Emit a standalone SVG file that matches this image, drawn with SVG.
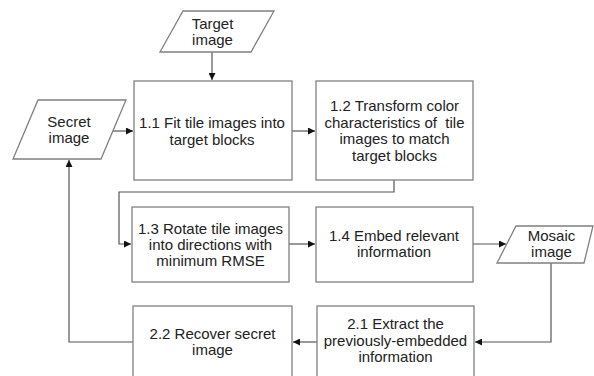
<svg xmlns="http://www.w3.org/2000/svg" width="594" height="376" viewBox="0 0 594 376">
<defs>
<marker id="arr" markerUnits="userSpaceOnUse" markerWidth="8" markerHeight="7" refX="7" refY="3.5" orient="auto">
<path d="M0,0 L7,3.5 L0,7 z" fill="#111"/>
</marker>
<style>
.box{fill:#fff;stroke:#808080;stroke-width:1.3}
.con{fill:none;stroke:#555;stroke-width:1.2}
text{font-family:"Liberation Sans",Arial,sans-serif;font-size:15px;fill:#222;text-anchor:middle}
</style>
</defs>
<rect width="594" height="376" fill="#fff"/>
<g id="connectors">
<path class="con" d="M212,52 V80" marker-end="url(#arr)"/>
<path class="con" d="M113,131 H133" marker-end="url(#arr)"/>
<path class="con" d="M292,131 H315" marker-end="url(#arr)"/>
<path class="con" d="M394,180 V192 H119 V244 H131" marker-end="url(#arr)"/>
<path class="con" d="M289,244 H315" marker-end="url(#arr)"/>
<path class="con" d="M473,244 H506" marker-end="url(#arr)"/>
<path class="con" d="M551,263 V342 H475" marker-end="url(#arr)"/>
<path class="con" d="M317,342 H293" marker-end="url(#arr)"/>
<path class="con" d="M133,342 H69 V160" marker-end="url(#arr)"/>
</g>
<g id="target">
<polygon class="box" points="183,11 274,11 251,52 160,52"/>
<text x="212.5" y="28.5">Target</text>
<text x="212.5" y="44.5">image</text>
</g>
<g id="secret">
<polygon class="box" points="38,100 126,100 101,159 13,159"/>
<text x="69" y="126.5">Secret</text>
<text x="69" y="142.5">image</text>
</g>
<g id="n11">
<rect class="box" x="134" y="81" width="158" height="99"/>
<text x="212" y="128">1.1 Fit tile images into</text>
<text x="212" y="144.5">target blocks</text>
</g>
<g id="n12">
<rect class="box" x="316" y="81" width="157" height="99"/>
<text x="394.5" y="111">1.2 Transform color</text>
<text x="394.5" y="127.5" xml:space="preserve">characteristics of  tile</text>
<text x="394.5" y="144">images to match</text>
<text x="394.5" y="160.5">target blocks</text>
</g>
<g id="n13">
<rect class="box" x="132" y="207" width="157" height="75"/>
<text x="210.5" y="233.5">1.3 Rotate tile images</text>
<text x="210.5" y="250">into directions with</text>
<text x="210.5" y="266">minimum RMSE</text>
</g>
<g id="n14">
<rect class="box" x="316" y="207" width="157" height="75"/>
<text x="394" y="241">1.4 Embed relevant</text>
<text x="394" y="257">information</text>
</g>
<g id="mosaic">
<polygon class="box" points="516,226 593,226 584,263 497,263"/>
<text x="551.5" y="241">Mosaic</text>
<text x="551.5" y="257">image</text>
</g>
<g id="n21">
<rect class="box" x="317" y="306" width="157" height="80"/>
<text x="395.5" y="329">2.1 Extract the</text>
<text x="395.5" y="345.5">previously-embedded</text>
<text x="395.5" y="362">information</text>
</g>
<g id="n22">
<rect class="box" x="133" y="306" width="159" height="80"/>
<text x="212.5" y="338.5">2.2 Recover secret</text>
<text x="212.5" y="354.5">image</text>
</g>
</svg>
